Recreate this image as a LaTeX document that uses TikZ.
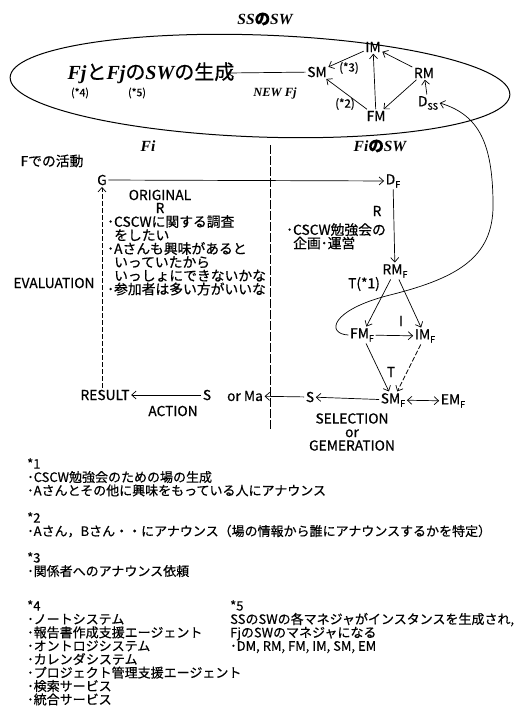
\documentclass[tikz,border=0pt]{standalone}
\usepackage{fontspec}
\setmainfont{Noto Sans CJK JP}[FakeBold=0.5]
\newfontfamily\timesbi{Liberation Serif}
\usetikzlibrary{arrows.meta}
\tikzstyle{flow}=[-{Straight Barb[length=4.5pt,width=8pt]},line width=0.7pt]
\tikzstyle{dflow}=[{Straight Barb[length=4.5pt,width=8pt]}-{Straight Barb[length=4.5pt,width=8pt]},line width=0.7pt]
\tikzstyle{dashflow}=[flow,dash pattern=on 5pt off 2pt]
\tikzstyle{divider}=[line width=1pt,dash pattern=on 9pt off 2pt]
\tikzstyle{lbl}=[inner sep=1.5pt]
\tikzstyle{note}=[anchor=north west,align=left,inner sep=0pt]
\tikzstyle{foot}=[note,font=\fontsize{13}{13.4}\selectfont]
\newcommand{\bi}[1]{{\timesbi\bfseries\itshape #1}}
\newcommand{\lo}[1]{\raisebox{-0.45ex}{\fontsize{9}{9}\selectfont #1}}

\begin{document}
\begin{tikzpicture}[x=1pt,y=-1pt,font=\fontsize{13.8}{13.5}\selectfont]
  \useasboundingbox (0,0) rectangle (520,707);
  % SS part
  \node (ssw) at (265,19) {\fontsize{15.5}{17}\selectfont\bi{SS}\textbf{の}\bi{SW}};
  \draw[line width=1pt,rotate around={-2:(260,86)}] (260,86) ellipse [x radius=250,y radius=51];
  \node (gen) at (151,73) {\fontsize{20}{22}\selectfont\bi{Fj}と\bi{Fj}の\bi{SW}の生成};
  \node at (80,93) {\fontsize{10.5}{11}\selectfont(*4)};
  \node at (137,93) {\fontsize{10.5}{11}\selectfont(*5)};
  \node at (275,93) {\fontsize{12.5}{13}\selectfont\bi{NEW Fj}};
  \node[lbl] (sm) at (317,72) {SM};
  \node[lbl] (im) at (373,47) {IM};
  \node[lbl] (rm) at (424,73) {RM};
  \node[lbl] (fm) at (376,116) {FM};
  \node[lbl] (dss) at (428,103) {D\lo{SS}};
  \node at (349,68) {\fontsize{11.5}{12}\selectfont(*3)};
  \node at (345,104) {\fontsize{11.5}{12}\selectfont(*2)};
  \draw[flow] (sm) -- ([xshift=-10pt]gen.east);
  \draw[flow] (im) -- (sm);
  \draw[flow] (fm) -- (sm);
  \draw[flow] (fm) -- (im);
  \draw[flow] (rm) -- (im);
  \draw[flow] (rm) -- (fm);
  \draw[flow] (dss) -- (rm);
  % F part
  \draw[divider] (270,145) -- (270,430);
  \node (fi) at (148,146) {\fontsize{15.5}{17}\selectfont\bi{Fi}};
  \node (fisw) at (380,146) {\fontsize{15.5}{17}\selectfont\bi{Fi}\textbf{の}\bi{SW}};
  \node at (52,161) {Fでの活動};
  \node[lbl] (g) at (102,180) {G};
  \node[lbl] (df) at (393,181) {D\lo{F}};
  \node at (160,195) {ORIGINAL};
  \node at (160,208) {R};
  \node[note] (orig) at (107,215) {･CSCWに関する調査\\\hspace{7pt}をしたい\\･Aさんも興味があると\\\hspace{7pt}いっていたから\\\hspace{7pt}いっしょにできないかな\\･参加者は多い方がいいな};
  \node at (54,283) {EVALUATION};
  \node[lbl] (result) at (105,395) {RESULT};
  \node[lbl] (sact) at (207,395) {S};
  \node[lbl] (orma) at (245,396) {or Ma};
  \node at (173,411) {ACTION};
  \node[lbl] (s) at (310,397) {S};
  \node[lbl] (smf) at (393,400) {SM\lo{F}};
  \node[lbl] (emf) at (453,401) {EM\lo{F}};
  \node[align=center] at (352,432) {SELECTION\\or\\GEMERATION};
  \node at (377,211) {R};
  \node[note] at (286,223) {･CSCW勉強会の\\\hspace{7pt}企画･運営};
  \node[lbl] (rmf) at (395,271) {RM\lo{F}};
  \node at (364,284) {T(*1)};
  \node[lbl] (fmf) at (362,335) {FM\lo{F}};
  \node[lbl] (imf) at (425,336) {IM\lo{F}};
  \node at (401,321) {I};
  \node at (391,372) {T};
  \draw[flow] (g) -- (df);
  \draw[dashflow] (g |- result.north) -- (g);
  \draw[flow] (sact) -- (result);
  \draw[flow] (s) -- (orma);
  \draw[flow] (smf) -- (s);
  \draw[dflow] (smf) -- (emf);
  \draw[flow] (df) -- (rmf);
  \draw[flow] (rmf) -- (fmf);
  \draw[flow] (rmf) -- (imf);
  \draw[flow] (fmf) -- (imf);
  \draw[flow] (fmf) -- (smf);
  \draw[dashflow] (imf) -- (smf);
  \draw[flow] (fmf.west) .. controls (326,334) and (330,310) .. (390,295) .. controls (462,277) and (495,255) .. (493,200) .. controls (492,145) and (480,115) .. (dss.east);
  % notes
  \node[foot] (n1) at (27,458) {*1\\･CSCW勉強会のための場の生成\\･Aさんとその他に興味をもっている人にアナウンス};
  \node[foot] (n2) at (27,512) {*2\\･Aさん，Bさん・・にアナウンス（場の情報から誰にアナウンスするかを特定）};
  \node[foot] (n3) at (27,552) {*3\\･関係者へのアナウンス依頼};
  \node[foot] (n4) at (27,600) {*4\\･ノートシステム\\･報告書作成支援エージェント\\･オントロジシステム\\･カレンダシステム\\･プロジェクト管理支援エージェント\\･検索サービス\\･統合サービス};
  \node[foot] (n5) at (230,600) {*5\\SSのSWの各マネジャがインスタンスを生成され,\\FjのSWのマネジャになる\\･DM, RM, FM, IM, SM, EM};
\end{tikzpicture}
\end{document}
